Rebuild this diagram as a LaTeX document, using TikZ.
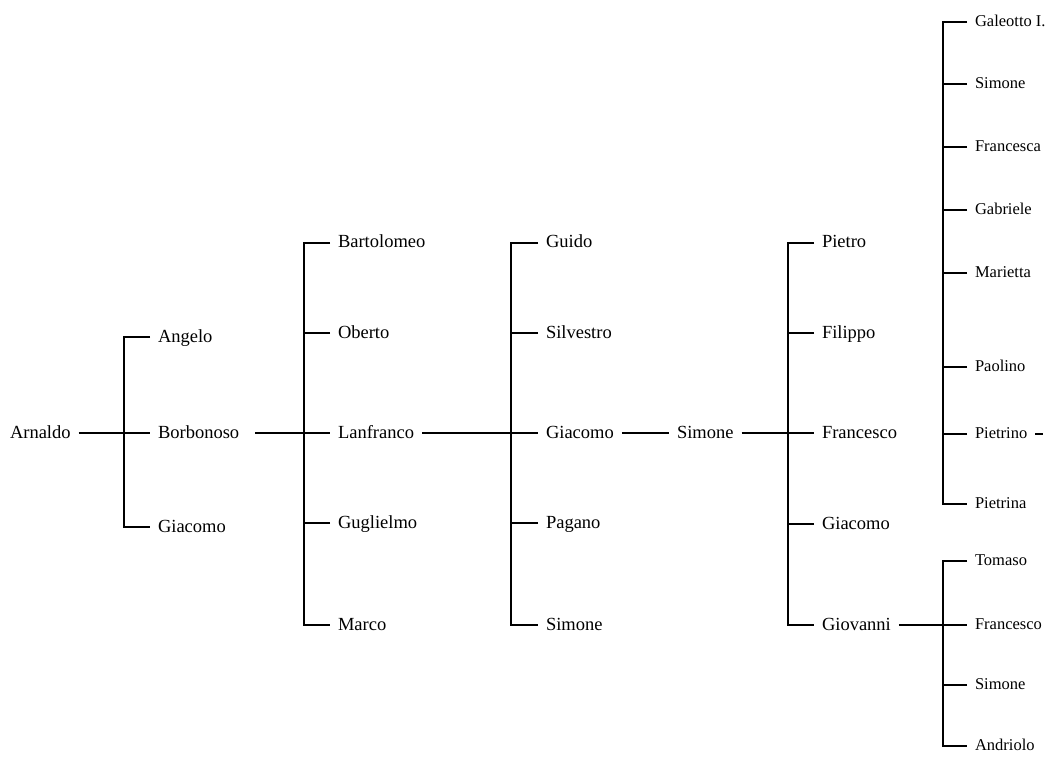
\documentclass[tikz,border=0pt]{standalone}
\usepackage{fontspec}
\setmainfont{Liberation Serif}
\begin{document}
\begin{tikzpicture}[x=1pt,y=-1pt,
  person/.style={anchor=west, inner xsep=8pt, inner ysep=0pt, outer sep=0pt,
    text height=10pt, text depth=0pt, font=\fontsize{18.5}{22}\selectfont},
  personsm/.style={person, text height=9pt, font=\fontsize{16.5}{20}\selectfont},
  link/.style={line width=1.2pt, line join=miter}]
\useasboundingbox (0,0) rectangle (1047,759);

% bracket columns
\coordinate (b1) at (124,433);
\coordinate (b2) at (304,433);
\coordinate (b3) at (511,433);
\coordinate (b4) at (788,433);
\coordinate (b5) at (943,625);
\coordinate (b6) at (943,433);

% generation 0
\node[person] (arnaldo) at (2,433) {Arnaldo};
% generation 1
\node[person] (angelo) at (150,337) {Angelo};
\node[person] (borbonoso) at (150,433) {Borbonoso};
\node[person] (giacomoA) at (150,527) {Giacomo};
% generation 2
\node[person] (bartolomeo) at (330,243) {Bartolomeo};
\node[person] (oberto) at (330,333) {Oberto};
\node[person] (lanfranco) at (330,433) {Lanfranco};
\node[person] (guglielmo) at (330,523) {Guglielmo};
\node[person] (marco) at (330,625) {Marco};
% generation 3
\node[person] (guido) at (538,243) {Guido};
\node[person] (silvestro) at (538,333) {Silvestro};
\node[person] (giacomoC) at (538,433) {Giacomo};
\node[person] (pagano) at (538,523) {Pagano};
\node[person] (simoneC) at (538,625) {Simone};
% generation 4
\node[person] (simoneD) at (669,433) {Simone};
% generation 5
\node[person] (pietro) at (814,243) {Pietro};
\node[person] (filippo) at (814,333) {Filippo};
\node[person] (francescoE) at (814,433) {Francesco};
\node[person] (giacomoE) at (814,524) {Giacomo};
\node[person] (giovanni) at (814,625) {Giovanni};
% top right column
\node[personsm] (galeotto) at (967,22) {Galeotto I.};
\node[personsm] (simoneF) at (967,84) {Simone};
\node[personsm] (francesca) at (967,147) {Francesca};
\node[personsm] (gabriele) at (967,210) {Gabriele};
\node[personsm] (marietta) at (967,273) {Marietta};
\node[personsm] (paolino) at (967,367) {Paolino};
\node[personsm] (pietrino) at (967,434) {Pietrino};
\node[personsm] (pietrina) at (967,504) {Pietrina};
\coordinate (pdash) at (1043,434);
% bottom right column
\node[personsm] (tomaso) at (967,561) {Tomaso};
\node[personsm] (francescoG) at (967,625) {Francesco};
\node[personsm] (simoneG) at (967,685) {Simone};
\node[personsm] (andriolo) at (967,746) {Andriolo};

% through-lines
\draw[link] (arnaldo.east) -- (borbonoso.west);
\draw[link] ([xshift=8pt]borbonoso.east) -- (lanfranco.west);
\draw[link] (lanfranco.east) -- (giacomoC.west);
\draw[link] (giacomoC.east) -- (simoneD.west);
\draw[link] (simoneD.east) -- (francescoE.west);
\draw[link] (giovanni.east) -- (francescoG.west);
\draw[link] (pietrino.east) -- (pdash);

% brackets
\draw[link] (angelo.west) -- (angelo.west -| b1) -- (giacomoA.west -| b1) -- (giacomoA.west);

\draw[link] (bartolomeo.west) -- (bartolomeo.west -| b2) -- (marco.west -| b2) -- (marco.west);
\draw[link] (oberto.west) -- (oberto.west -| b2);
\draw[link] (guglielmo.west) -- (guglielmo.west -| b2);

\draw[link] (guido.west) -- (guido.west -| b3) -- (simoneC.west -| b3) -- (simoneC.west);
\draw[link] (silvestro.west) -- (silvestro.west -| b3);
\draw[link] (pagano.west) -- (pagano.west -| b3);

\draw[link] (pietro.west) -- (pietro.west -| b4) -- (giovanni.west -| b4) -- (giovanni.west);
\draw[link] (filippo.west) -- (filippo.west -| b4);
\draw[link] (giacomoE.west) -- (giacomoE.west -| b4);

\draw[link] (galeotto.west) -- (galeotto.west -| b6) -- (pietrina.west -| b6) -- (pietrina.west);
\foreach \n in {simoneF,francesca,gabriele,marietta,paolino,pietrino}
  \draw[link] (\n.west) -- (\n.west -| b6);

\draw[link] (tomaso.west) -- (tomaso.west -| b5) -- (andriolo.west -| b5) -- (andriolo.west);
\draw[link] (simoneG.west) -- (simoneG.west -| b5);
\end{tikzpicture}
\end{document}
